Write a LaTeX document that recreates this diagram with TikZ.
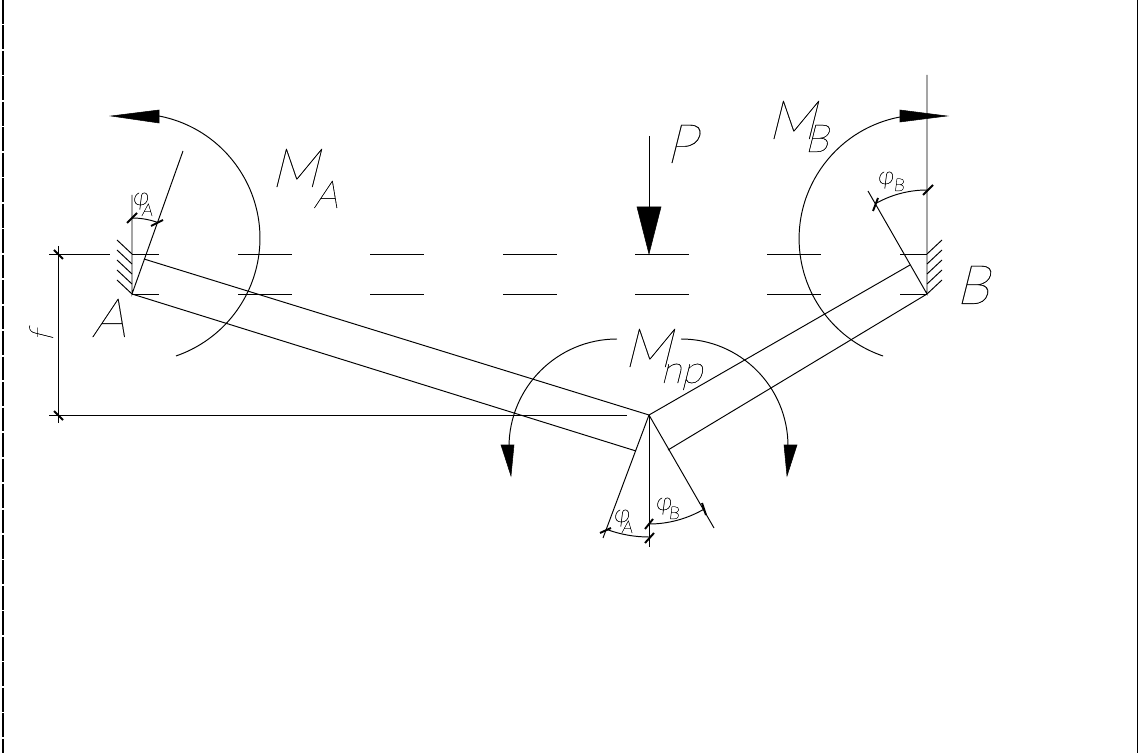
\documentclass[tikz,border=0pt]{standalone}
\usepackage{fontspec}
\newfontfamily\cadfont[FakeSlant=0.25,FakeBold=0.3]{Lato Hairline}
\newfontfamily\cadsmall[FakeSlant=0.12,FakeBold=0.9]{Lato Hairline}
\usetikzlibrary{positioning}

\begin{document}
\begin{tikzpicture}[
    x=0.02cm, y=0.02cm, yscale=-1,
    thin line/.style={line width=0.55pt},
    tickmark/.style={line width=1.1pt},
    head/.style={fill=black, draw=black, line width=0.3pt},
    bigtext/.style={inner sep=0pt, anchor=base west, font=\cadfont\fontsize{31}{31}\selectfont},
    subtext/.style={inner sep=0pt, anchor=base west, font=\cadfont\fontsize{22}{22}\selectfont},
    phitext/.style={inner sep=0pt, anchor=base west, font=\cadsmall\fontsize{14}{14}\selectfont},
    smalltext/.style={inner sep=0pt, anchor=base west, font=\cadsmall\fontsize{10}{10}\selectfont}
  ]

    \useasboundingbox (0,0) rectangle (1147,753);

    % frame of the sheet
    \draw[line width=0.8pt, dash pattern=on 13.5pt off 1pt] (3,0) -- (3,753);
    \draw[line width=0.8pt] (1137.5,0) -- (1137.5,753);

    \coordinate (A) at (132,294);
    \coordinate (Atop) at (132,254);
    \coordinate (B) at (927,294);
    \coordinate (Btop) at (927,254);
    \coordinate (C) at (649,415);

    % beam
    \coordinate (Abeam) at (144,259);
    \coordinate (Cleft) at (636,451);
    \coordinate (Bbeam) at (910,265);
    \coordinate (Cright) at (668,450);
    \draw[thin line] (Abeam) -- (C) -- (Bbeam);
    \draw[thin line] (A) -- (Cleft);
    \draw[thin line] (B) -- (Cright);

    % undeformed beam
    \foreach \xa/\xb in {132/159, 238/292, 370/424, 503/557, 635/689, 767/821, 900/927} {
      \draw[thin line] (\xa,254) -- (\xb,254);
      \draw[thin line] (\xa,294) -- (\xb,294);
    }

    % supports
    \foreach \ya in {254,264,274,284,294} {
      \draw[thin line] (132,\ya) -- (117,\ya-14);
      \draw[thin line] (927,\ya) -- (942,\ya-14);
    }
    \coordinate (Aup) at (132,195);
    \coordinate (Bup) at (927,75);
    \coordinate (Arot) at (183,151);
    \coordinate (Brot) at (868,191);
    \draw[thin line] (Aup) -- (A) -- (Arot);
    \draw[thin line] (Bup) -- (B) -- (Brot);

    % dimension f
    \coordinate (ftop) at (58,246);
    \coordinate (fbot) at (58,423);
    \draw[thin line] (ftop) -- (fbot);
    \draw[thin line] (49,254) -- (110,254);
    \draw[thin line] (49,415) -- (627,415);
    \draw[tickmark] (54,250) -- (63,259);
    \draw[tickmark] (54,411) -- (63,420);

    % moments
    \draw[thin line] (159,116) arc[start angle=-79.1, end angle=71, radius=124.5];
    \fill[head] (159,110) -- (111,116) -- (159,123) -- cycle;
    \draw[thin line] (900,117) arc[start angle=259.3, end angle=108.8, radius=123.9];
    \fill[head] (900,110) -- (947,116) -- (900,122) -- cycle;
    \draw[thin line] (617,339) arc[start angle=-90, end angle=-180, radius=108];
    \fill[head] (501,445) -- (511,476) -- (514,445) -- cycle;
    \draw[thin line] (681,339) arc[start angle=-90, end angle=0, radius=107];
    \fill[head] (784,445) -- (787,476) -- (797,445) -- cycle;

    % force
    \coordinate (Pstart) at (649,136);
    \coordinate (Pbase) at (649,207);
    \draw[thin line] (Pstart) -- (Pbase);
    \fill[head] (637,207) -- (649,254) -- (661,207) -- cycle;

    % angles at the supports
    \draw[thin line] (132,218) arc[start angle=-90, end angle=-70.4, radius=76];
    \draw[tickmark] (127,223) -- (137,213);
    \draw[tickmark] (151,226) -- (163,220);
    \draw[thin line] (927,190) arc[start angle=-90, end angle=-120, radius=104];
    \draw[tickmark] (923,195) -- (933,185);
    \draw[tickmark] (873,211) -- (878,198);

    % angles at the apex
    \coordinate (Cdown) at (649,547);
    \coordinate (Cl) at (603,538);
    \coordinate (Cr) at (714,528);
    \draw[thin line] (C) -- (Cdown);
    \draw[thin line] (C) -- (Cl);
    \draw[thin line] (C) -- (Cr);
    \draw[thin line] (649,524) arc[start angle=90, end angle=60.1, radius=109];
    \draw[thin line] (649,537) arc[start angle=90, end angle=110.5, radius=122];
    \draw[tickmark] (645,529) -- (653,519);
    \draw[tickmark] (645,543) -- (654,533);
    \draw[tickmark] (702,503) -- (706,515);
    \draw[tickmark] (600,533) -- (611,528);

    % labels
    \node[bigtext] (la) at (91,337) {A};
    \node[bigtext] (lb) at (955,304) {B};
    \node[bigtext] (lp) at (665,163) {P};
    \node[bigtext] (ma) at (270,187) {M};
    \node[subtext] (maa) at (313,208) {A};
    \node[bigtext] (mb) at (767,139) {M};
    \node[subtext] (mbb) at (804,152) {B};
    \node[bigtext] (mn) at (623,367) {M};
    \node[subtext] (mnn) at (660,383) {np};
    \node[phitext] (pa) at (132,205) {φ};
    \node[smalltext] (paa) at (141,216) {A};
    \node[phitext] (pb) at (877,184) {φ};
    \node[smalltext] (pbb) at (893,191) {B};
    \node[phitext] (qa) at (613,522) {φ};
    \node[smalltext] (qaa) at (621,533) {A};
    \node[phitext] (qb) at (655,510) {φ};
    \node[smalltext] (qbb) at (668,519) {B};
    \node[inner sep=0pt, anchor=base west, rotate=90, font=\cadfont\fontsize{19}{19}\selectfont] (lf) at (53,342) {f};

  \end{tikzpicture}
\end{document}
